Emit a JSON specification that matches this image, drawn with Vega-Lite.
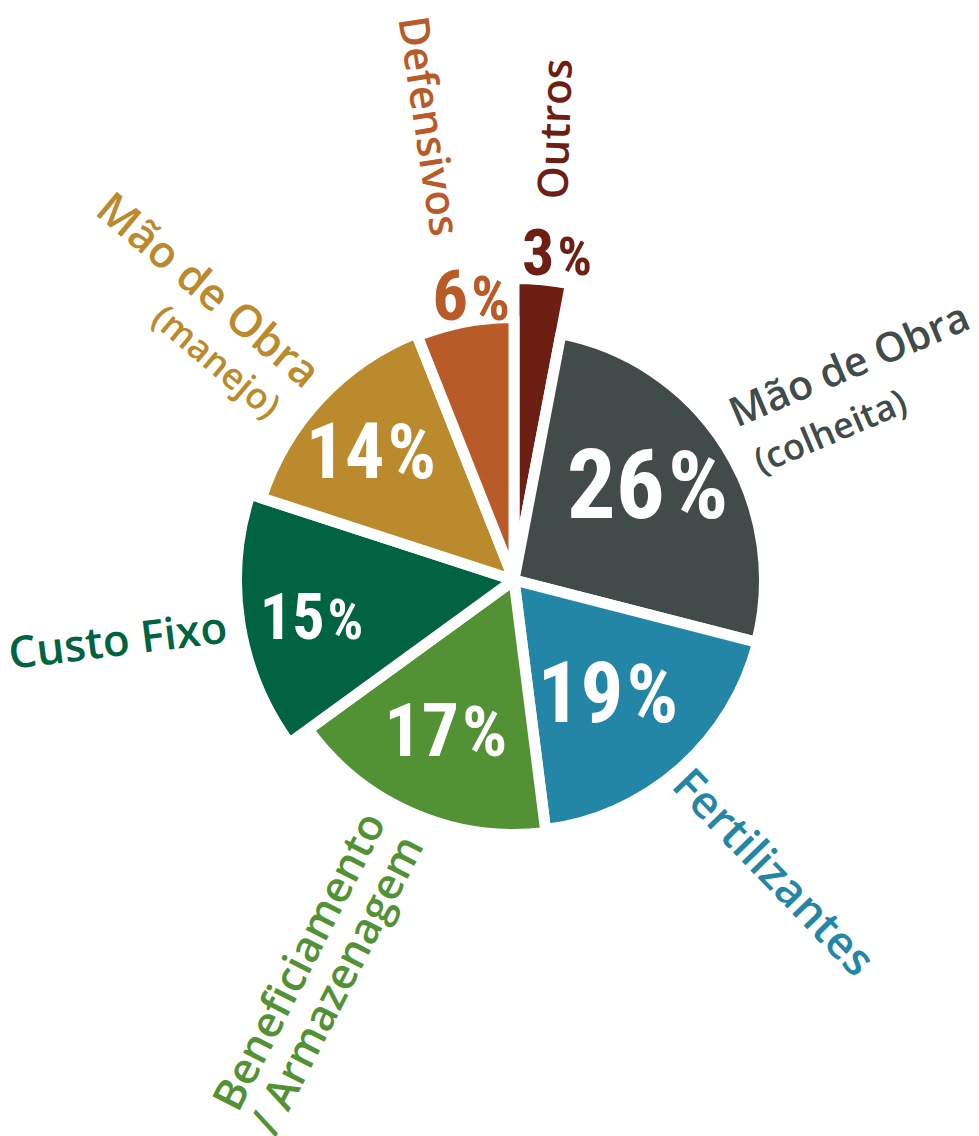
{
  "$schema": "https://vega.github.io/schema/vega-lite/v6.json",
  "width": 928,
  "height": 1112,
  "autosize": {"type": "none"},
  "padding": {"left": 50, "top": 24, "right": 0, "bottom": 0},
  "background": "white",
  "config": {"view": {"stroke": null}},
  "data": {
    "values": [
      {"o": 1, "cat": "Outros", "value": 3, "n": "3", "main": "Outros", "sub": "", "top": ""},
      {"o": 2, "cat": "Mão de Obra (colheita)", "value": 26, "n": "26", "main": "Mão de Obra", "sub": "(colheita)", "top": ""},
      {"o": 3, "cat": "Fertilizantes", "value": 19, "n": "19", "main": "Fertilizantes", "sub": "", "top": ""},
      {"o": 4, "cat": "Beneficiamento / Armazenagem", "value": 17, "n": "17", "main": "/ Armazenagem", "sub": "", "top": "Beneficiamento"},
      {"o": 5, "cat": "Custo Fixo", "value": 15, "n": "15", "main": "Custo Fixo", "sub": "", "top": ""},
      {"o": 6, "cat": "Mão de Obra (manejo)", "value": 14, "n": "14", "main": "Mão de Obra", "sub": "(manejo)", "top": ""},
      {"o": 7, "cat": "Defensivos", "value": 6, "n": "6", "main": "Defensivos", "sub": "", "top": ""}
    ]
  },
  "encoding": {
    "theta": {"field": "value", "type": "quantitative", "stack": true},
    "order": {"field": "o", "type": "quantitative"}
  },
  "layer": [
    {
      "mark": {"type": "arc", "stroke": "white", "strokeWidth": 11, "strokeJoin": "round"},
      "encoding": {
        "radius": {"field": "value", "type": "quantitative", "scale": {"type": "linear", "zero": false, "nice": false, "domain": [3, 6, 14, 15, 17, 19, 26], "range": [301.5, 262.5, 265.5, 277.5, 254.5, 251.5, 250.5]}},
        "radius2": {"value": 0},
        "color": {
          "field": "cat", "type": "nominal", "legend": null,
          "scale": {
            "domain": ["Outros", "Mão de Obra (colheita)", "Fertilizantes", "Beneficiamento / Armazenagem", "Custo Fixo", "Mão de Obra (manejo)", "Defensivos"],
            "range": ["#6E1F14", "#414B4A", "#2386A7", "#529234", "#006341", "#BA8A2D", "#B95B28"]
          }
        }
      }
    },
    {
      "mark": {"type": "text", "align": "right", "baseline": "alphabetic", "dx": 9, "dy": 28, "font": "Roboto Condensed, Liberation Sans Narrow, DejaVu Sans Condensed", "fontWeight": "bold"},
      "encoding": {
        "text": {"field": "n", "type": "nominal"},
        "radius": {"field": "value", "type": "quantitative", "scale": {"type": "linear", "zero": false, "nice": false, "domain": [3, 6, 14, 15, 17, 19, 26], "range": [334, 293, 190, 201, 161, 152, 168]}},
        "size": {"field": "cat", "type": "nominal", "legend": null, "scale": {"type": "ordinal", "domain": ["Outros", "Mão de Obra (colheita)", "Fertilizantes", "Beneficiamento / Armazenagem", "Custo Fixo", "Mão de Obra (manejo)", "Defensivos"], "range": [64, 97, 85, 74, 64, 78, 71]}},
        "color": {"condition": {"test": "datum.value < 10", "field": "cat", "type": "nominal", "legend": null}, "value": "white"}
      }
    },
    {
      "mark": {"type": "text", "align": "left", "baseline": "alphabetic", "dx": 12, "dy": 28, "font": "Roboto Condensed, Liberation Sans Narrow, DejaVu Sans Condensed", "fontWeight": "bold"},
      "encoding": {
        "text": {"value": "%"},
        "radius": {"field": "value", "type": "quantitative", "scale": {"type": "linear", "zero": false, "nice": false, "domain": [3, 6, 14, 15, 17, 19, 26], "range": [334, 293, 190, 201, 161, 152, 168]}},
        "size": {"field": "cat", "type": "nominal", "legend": null, "scale": {"type": "ordinal", "domain": ["Outros", "Mão de Obra (colheita)", "Fertilizantes", "Beneficiamento / Armazenagem", "Custo Fixo", "Mão de Obra (manejo)", "Defensivos"], "range": [54, 95, 81, 71, 56, 76, 61]}},
        "color": {"condition": {"test": "datum.value < 10", "field": "cat", "type": "nominal", "legend": null}, "value": "white"}
      }
    },
    {
      "mark": {"type": "text", "align": "center", "baseline": "middle", "font": "Open Sans", "fontWeight": 600},
      "encoding": {
        "text": {"field": "main", "type": "nominal"},
        "radius": {"field": "value", "type": "quantitative", "scale": {"type": "linear", "zero": false, "nice": false, "domain": [3, 6, 14, 15, 17, 19, 26], "range": [453, 462, 421, 401, 442, 391, 398]}},
        "size": {"field": "cat", "type": "nominal", "legend": null, "scale": {"type": "ordinal", "domain": ["Outros", "Mão de Obra (colheita)", "Fertilizantes", "Beneficiamento / Armazenagem", "Custo Fixo", "Mão de Obra (manejo)", "Defensivos"], "range": [42, 41, 45, 43, 44, 44, 42]}},
        "angle": {"field": "cat", "type": "nominal", "legend": null, "scale": {"type": "ordinal", "domain": ["Outros", "Mão de Obra (colheita)", "Fertilizantes", "Beneficiamento / Armazenagem", "Custo Fixo", "Mão de Obra (manejo)", "Defensivos"], "range": [272, 337, 46, 297, 353, 40, 81.5]}},
        "color": {"field": "cat", "type": "nominal", "legend": null}
      }
    },
    {
      "mark": {"type": "text", "align": "center", "baseline": "middle", "font": "Open Sans", "fontWeight": 600, "fontSize": 36, "dy": 46},
      "encoding": {
        "text": {"field": "sub", "type": "nominal"},
        "radius": {"field": "value", "type": "quantitative", "scale": {"type": "linear", "zero": false, "nice": false, "domain": [14, 26], "range": [369, 354]}},
        "angle": {"field": "cat", "type": "nominal", "legend": null, "scale": {"type": "ordinal", "domain": ["Outros", "Mão de Obra (colheita)", "Fertilizantes", "Beneficiamento / Armazenagem", "Custo Fixo", "Mão de Obra (manejo)", "Defensivos"], "range": [272, 337, 46, 297, 353, 40, 81.5]}},
        "color": {"field": "cat", "type": "nominal", "legend": null}
      }
    },
    {
      "mark": {"type": "text", "align": "center", "baseline": "middle", "font": "Open Sans", "fontWeight": 600, "fontSize": 43, "dy": -44, "radius": 438},
      "encoding": {
        "text": {"field": "top", "type": "nominal"},
        "angle": {"field": "cat", "type": "nominal", "legend": null, "scale": {"type": "ordinal", "domain": ["Outros", "Mão de Obra (colheita)", "Fertilizantes", "Beneficiamento / Armazenagem", "Custo Fixo", "Mão de Obra (manejo)", "Defensivos"], "range": [272, 337, 46, 297, 353, 40, 81.5]}},
        "color": {"field": "cat", "type": "nominal", "legend": null}
      }
    }
  ],
  "resolve": {"scale": {"radius": "independent", "size": "independent"}}
}
